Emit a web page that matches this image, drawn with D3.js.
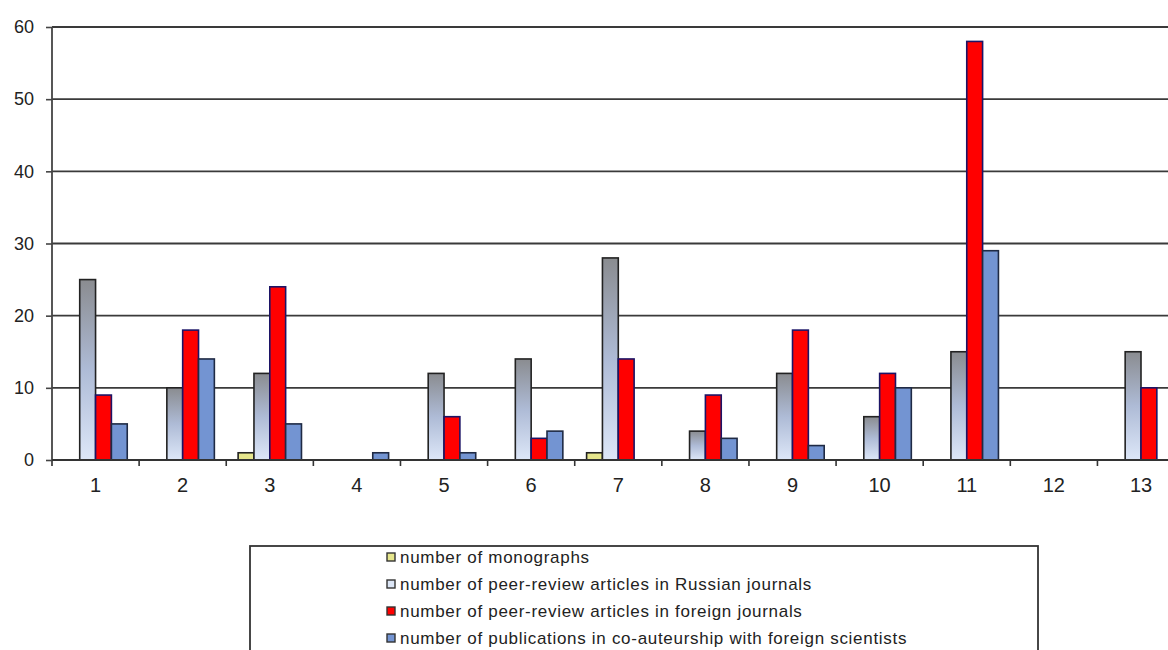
<!DOCTYPE html>
<html>
<head>
<meta charset="utf-8">
<script src="https://cdn.jsdelivr.net/npm/d3@7/dist/d3.min.js"></script>
<style>
  html, body { margin: 0; padding: 0; background: #fff; overflow: hidden; }
  svg { display: block; font-family: "Liberation Sans", Arial, sans-serif; }
</style>
</head>
<body>
<svg id="chart" width="1168" height="650"></svg>
<script>
// Publication counts per group
const categories = ["1", "2", "3", "4", "5", "6", "7", "8", "9", "10", "11", "12", "13"];
const monographs = [0, 0, 1, 0, 0, 0, 1, 0, 0, 0, 0, 0, 0];
const russianArticles = [25, 10, 12, 0, 12, 14, 28, 4, 12, 6, 15, 0, 15];
const foreignArticles = [9, 18, 24, 0, 6, 3, 14, 9, 18, 12, 58, 0, 10];
const coAuthored = [5, 14, 5, 1, 1, 4, 0, 3, 2, 10, 29, 0, 0];
const seriesNames = [
  "number of monographs",
  "number of peer-review articles in Russian journals",
  "number of peer-review articles in foreign journals",
  "number of publications in co-auteurship with foreign scientists"
];
const yTicks = [0, 10, 20, 30, 40, 50, 60];

const seriesValues = [monographs, russianArticles, foreignArticles, coAuthored];
const seriesStyle = [
  { fill: "#e6e68c", stroke: "#222" },
  { fill: "url(#grayBlue)", stroke: "#222" },
  { fill: "#ff0000", stroke: "#1c1466" },
  { fill: "#7394d2", stroke: "#1f2a44" }
];
const legendFill = ["#e6e68c", "#dce6f6", "#ff0000", "#7394d2"];

const svg = d3.select("#chart");

// Gradient for the Russian-journal bars: dark grey at the top fading to pale blue
const defs = svg.append("defs");
const grad = defs.append("linearGradient")
  .attr("id", "grayBlue").attr("x1", 0).attr("y1", 0).attr("x2", 0).attr("y2", 1);
grad.append("stop").attr("offset", "0%").attr("stop-color", "#8a8c90");
grad.append("stop").attr("offset", "50%").attr("stop-color", "#aebbd6");
grad.append("stop").attr("offset", "100%").attr("stop-color", "#dde7f8");

const left = 52, bandW = 87.12;
const x = d3.scaleBand()
  .domain(categories)
  .range([left, left + bandW * categories.length])
  .paddingInner(0).paddingOuter(0);
// Excel-style 150% gap width: 4 bars + 1.5 bar widths per category
const barW = x.bandwidth() / 5.5;
const inner = d3.scaleBand()
  .domain(d3.range(seriesValues.length))
  .range([barW * 0.75, barW * 0.75 + barW * 4]);

const y = d3.scaleLinear().domain([0, 60]).range([460, 27]);

// Horizontal gridlines
svg.append("g")
  .selectAll("line")
  .data(yTicks.filter(t => t > 0))
  .join("line")
  .attr("x1", left).attr("x2", 1168)
  .attr("y1", d => y(d)).attr("y2", d => y(d))
  .attr("stroke", "#3a3a3a").attr("stroke-width", 1.8);

// Bars
const groups = svg.append("g")
  .selectAll("g")
  .data(categories)
  .join("g")
  .attr("transform", d => `translate(${x(d)},0)`);

groups.each(function(cat, ci) {
  const g = d3.select(this);
  seriesValues.forEach((vals, si) => {
    const v = vals[ci];
    if (v <= 0) return;
    g.append("rect")
      .attr("x", inner(si))
      .attr("width", inner.bandwidth())
      .attr("y", y(v))
      .attr("height", y(0) - y(v))
      .attr("fill", seriesStyle[si].fill)
      .attr("stroke", seriesStyle[si].stroke)
      .attr("stroke-width", 1.6);
  });
});

// Y axis
const yAxis = svg.append("g")
  .attr("transform", `translate(${left},0)`)
  .call(d3.axisLeft(y).tickValues(yTicks).tickSize(6).tickPadding(12).tickFormat(d3.format("d")));
yAxis.select(".domain").attr("stroke", "#444").attr("stroke-width", 1.8)
  .attr("d", `M0,${y(60)}V${y(0) + 6}`);
yAxis.selectAll(".tick line").attr("stroke", "#444").attr("stroke-width", 1.6);
yAxis.selectAll(".tick text")
  .attr("font-size", 18).attr("fill", "#222")
  .attr("font-family", "'Liberation Sans', Arial, sans-serif");

// X axis with tick marks between categories
const xAxis = svg.append("g").attr("transform", `translate(0,${y(0)})`);
xAxis.append("line")
  .attr("x1", left).attr("x2", 1168)
  .attr("stroke", "#333").attr("stroke-width", 1.8);
xAxis.selectAll(".sep")
  .data(categories)
  .join("line")
  .attr("class", "sep")
  .attr("x1", d => x(d) + x.bandwidth()).attr("x2", d => x(d) + x.bandwidth())
  .attr("y1", 0).attr("y2", 6)
  .attr("stroke", "#333").attr("stroke-width", 1.6);
xAxis.selectAll(".lbl")
  .data(categories)
  .join("text")
  .attr("class", "lbl")
  .attr("x", d => x(d) + x.bandwidth() / 2)
  .attr("y", 32)
  .attr("text-anchor", "middle")
  .attr("font-size", 20)
  .attr("fill", "#222")
  .text(d => d);

// Legend
const legend = svg.append("g");
legend.append("rect")
  .attr("x", 250).attr("y", 546)
  .attr("width", 788).attr("height", 130)
  .attr("fill", "#fff").attr("stroke", "#333").attr("stroke-width", 1.8);

const rows = legend.selectAll(".item")
  .data(seriesNames)
  .join("g")
  .attr("class", "item")
  .attr("transform", (d, i) => `translate(387,${557 + i * 27})`);
rows.append("rect")
  .attr("x", 0).attr("y", -4)
  .attr("width", 8).attr("height", 8)
  .attr("fill", (d, i) => legendFill[i])
  .attr("stroke", "#333").attr("stroke-width", 1.4);
rows.append("text")
  .attr("x", 13).attr("y", 0)
  .attr("dy", "0.36em")
  .attr("font-size", 17)
  .attr("letter-spacing", 0.7)
  .attr("fill", "#222")
  .text(d => d);
</script>
</body>
</html>
